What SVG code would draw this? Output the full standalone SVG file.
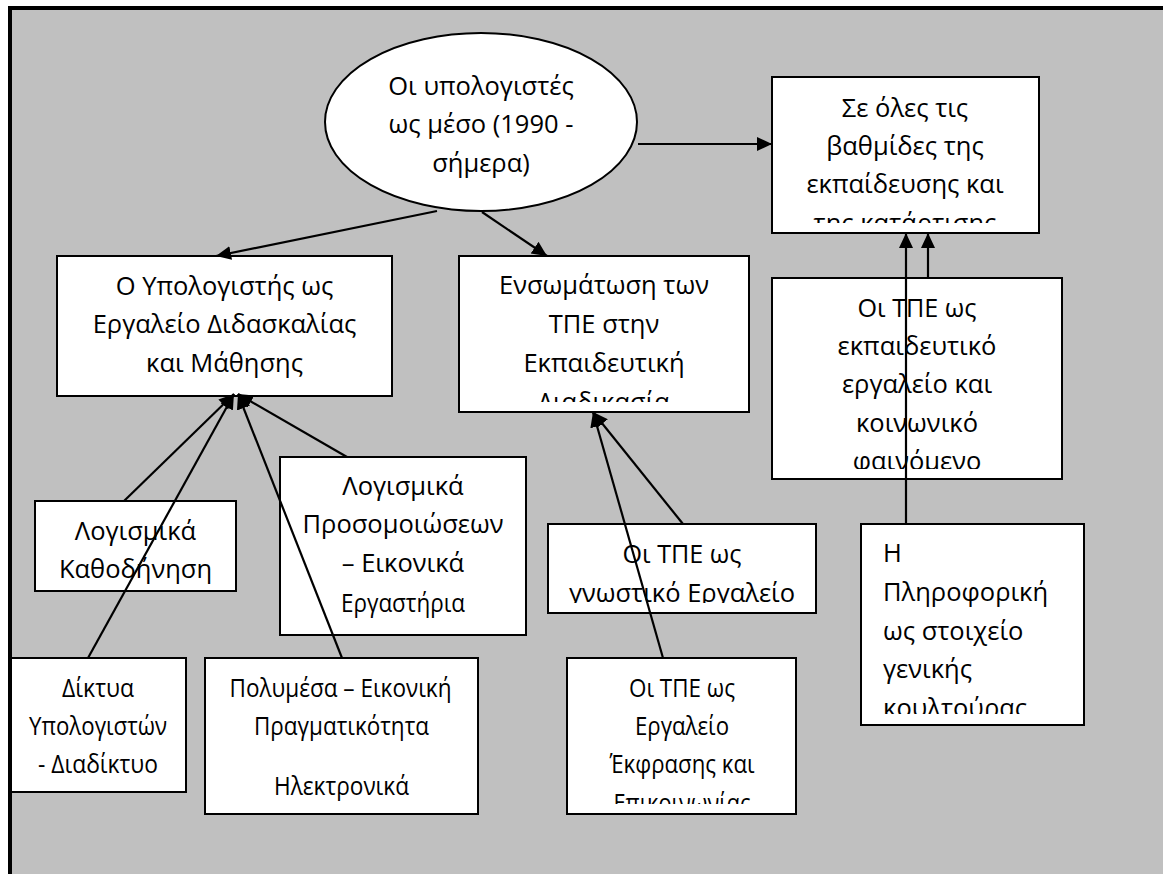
<svg xmlns="http://www.w3.org/2000/svg" width="1163" height="874" viewBox="0 0 1163 874">
<style>
.box{fill:#fff;stroke:#000;stroke-width:2}
.t{font-family:"Open Sans","Noto Sans","DejaVu Sans",sans-serif;font-size:25.5px;fill:#000;text-anchor:middle}
.tl{text-anchor:start}
.c{stroke:#000;stroke-width:2.2;fill:none;marker-end:url(#ah)}
</style>
<defs>
<marker id="ah" markerUnits="userSpaceOnUse" markerWidth="16" markerHeight="16" refX="15" refY="7" orient="auto">
<path d="M0,0 L15,7 L0,14 z" fill="#000"/>
</marker>
<clipPath id="c1"><rect x="772" y="77" width="267" height="146"/></clipPath>
<clipPath id="c2"><rect x="772" y="278" width="290" height="191"/></clipPath>
<clipPath id="c3"><rect x="861" y="524" width="223" height="190"/></clipPath>
<clipPath id="c4"><rect x="459" y="256" width="290" height="146"/></clipPath>
<clipPath id="c5"><rect x="548" y="524" width="268" height="79"/></clipPath>
<clipPath id="c6"><rect x="567" y="658" width="229" height="146"/></clipPath>
</defs>
<rect x="0" y="0" width="1163" height="874" fill="#fff"/>
<rect x="10" y="8" width="1170" height="890" fill="#C0C0C0" stroke="#000" stroke-width="4"/>

<g id="n-ellipse">
<ellipse class="box" cx="481" cy="122" rx="156" ry="89"/>
<text class="t" x="481" y="95">Οι υπολογιστές</text>
<text class="t" x="481" y="133">ως μέσο (1990 -</text>
<text class="t" x="481" y="172">σήμερα)</text>
</g>

<g id="n-oles">
<rect class="box" x="772" y="77" width="267" height="156"/>
<g clip-path="url(#c1)">
<text class="t" x="905" y="117">Σε όλες τις</text>
<text class="t" x="905" y="155">βαθμίδες της</text>
<text class="t" x="905" y="193">εκπαίδευσης και</text>
<text class="t" x="905" y="232">της κατάρτισης</text>
</g>
</g>

<g id="n-tpe-koin">
<rect class="box" x="772" y="278" width="290" height="201"/>
<g clip-path="url(#c2)">
<text class="t" x="917" y="317" textLength="119" lengthAdjust="spacingAndGlyphs">Οι ΤΠΕ ως</text>
<text class="t" x="917" y="355">εκπαιδευτικό</text>
<text class="t" x="917" y="393">εργαλείο και</text>
<text class="t" x="917" y="432">κοινωνικό</text>
<text class="t" x="917" y="470">φαινόμενο</text>
</g>
</g>

<g id="n-pliroforiki">
<rect class="box" x="861" y="524" width="223" height="201"/>
<g clip-path="url(#c3)">
<text class="t tl" x="883" y="562">Η</text>
<text class="t tl" x="883" y="601">Πληροφορική</text>
<text class="t tl" x="883" y="640">ως στοιχείο</text>
<text class="t tl" x="883" y="678">γενικής</text>
<text class="t tl" x="883" y="717">κουλτούρας</text>
</g>
</g>

<g id="n-ypologistis">
<rect class="box" x="57" y="256" width="335" height="140"/>
<text class="t" x="224.5" y="295">Ο Υπολογιστής ως</text>
<text class="t" x="224.5" y="333">Εργαλείο Διδασκαλίας</text>
<text class="t" x="224.5" y="372">και Μάθησης</text>
</g>

<g id="n-ensomatosi">
<rect class="box" x="459" y="256" width="290" height="156"/>
<g clip-path="url(#c4)">
<text class="t" x="604" y="294">Ενσωμάτωση των</text>
<text class="t" x="604" y="333">ΤΠΕ στην</text>
<text class="t" x="604" y="372">Εκπαιδευτική</text>
<text class="t" x="604" y="411">Διαδικασία</text>
</g>
</g>

<g id="n-kathodinisi">
<rect class="box" x="35" y="501" width="201" height="90"/>
<text class="t" x="135.5" y="540">Λογισμικά</text>
<text class="t" x="135.5" y="578">Καθοδήνηση</text>
</g>

<g id="n-prosomoioseon">
<rect class="box" x="280" y="457" width="246" height="178"/>
<text class="t" x="403" y="495">Λογισμικά</text>
<text class="t" x="403" y="533">Προσομοιώσεων</text>
<text class="t" x="403" y="572">– Εικονικά</text>
<text class="t" x="403" y="612" textLength="124" lengthAdjust="spacingAndGlyphs">Εργαστήρια</text>
</g>

<g id="n-gnostiko">
<rect class="box" x="548" y="524" width="268" height="89"/>
<g clip-path="url(#c5)">
<text class="t" x="682" y="563" textLength="119" lengthAdjust="spacingAndGlyphs">Οι ΤΠΕ ως</text>
<text class="t" x="682" y="602">γνωστικό Εργαλείο</text>
</g>
</g>

<g id="n-diktya">
<rect class="box" x="11" y="658" width="175" height="134"/>
<text class="t" x="98" y="697" textLength="72" lengthAdjust="spacingAndGlyphs">Δίκτυα</text>
<text class="t" x="98" y="735" textLength="138" lengthAdjust="spacingAndGlyphs">Υπολογιστών</text>
<text class="t" x="98" y="773" textLength="120" lengthAdjust="spacingAndGlyphs">- Διαδίκτυο</text>
</g>

<g id="n-polymesa">
<rect class="box" x="205" y="658" width="273" height="156"/>
<text class="t" x="340.5" y="697" textLength="222" lengthAdjust="spacingAndGlyphs">Πολυμέσα – Εικονική</text>
<text class="t" x="341.5" y="735" textLength="175" lengthAdjust="spacingAndGlyphs">Πραγματικότητα</text>
<text class="t" x="341.5" y="795" textLength="135" lengthAdjust="spacingAndGlyphs">Ηλεκτρονικά</text>
</g>

<g id="n-ekfrasi">
<rect class="box" x="567" y="658" width="229" height="156"/>
<g clip-path="url(#c6)">
<text class="t" x="682" y="697" textLength="106" lengthAdjust="spacingAndGlyphs">Οι ΤΠΕ ως</text>
<text class="t" x="682" y="735" textLength="94" lengthAdjust="spacingAndGlyphs">Εργαλείο</text>
<text class="t" x="682" y="773" textLength="145" lengthAdjust="spacingAndGlyphs">Έκφρασης και</text>
<text class="t" x="682" y="812" textLength="137" lengthAdjust="spacingAndGlyphs">Επικοινωνίας</text>
</g>
</g>

<g id="connectors">
<line class="c" x1="437" y1="211" x2="216" y2="256"/>
<line class="c" x1="482" y1="212" x2="547" y2="256"/>
<line class="c" x1="638" y1="144" x2="772" y2="144"/>
<line class="c" x1="124" y1="501" x2="234" y2="394"/>
<line class="c" x1="88" y1="658" x2="234" y2="394"/>
<line class="c" x1="347" y1="457" x2="238" y2="394"/>
<line class="c" x1="342" y1="658" x2="238" y2="394"/>
<line class="c" x1="683" y1="524" x2="593" y2="412"/>
<line class="c" x1="663" y1="658" x2="593" y2="412"/>
<line class="c" x1="906" y1="524" x2="906" y2="233"/>
<line class="c" x1="928" y1="278" x2="928" y2="233"/>
</g>
</svg>
